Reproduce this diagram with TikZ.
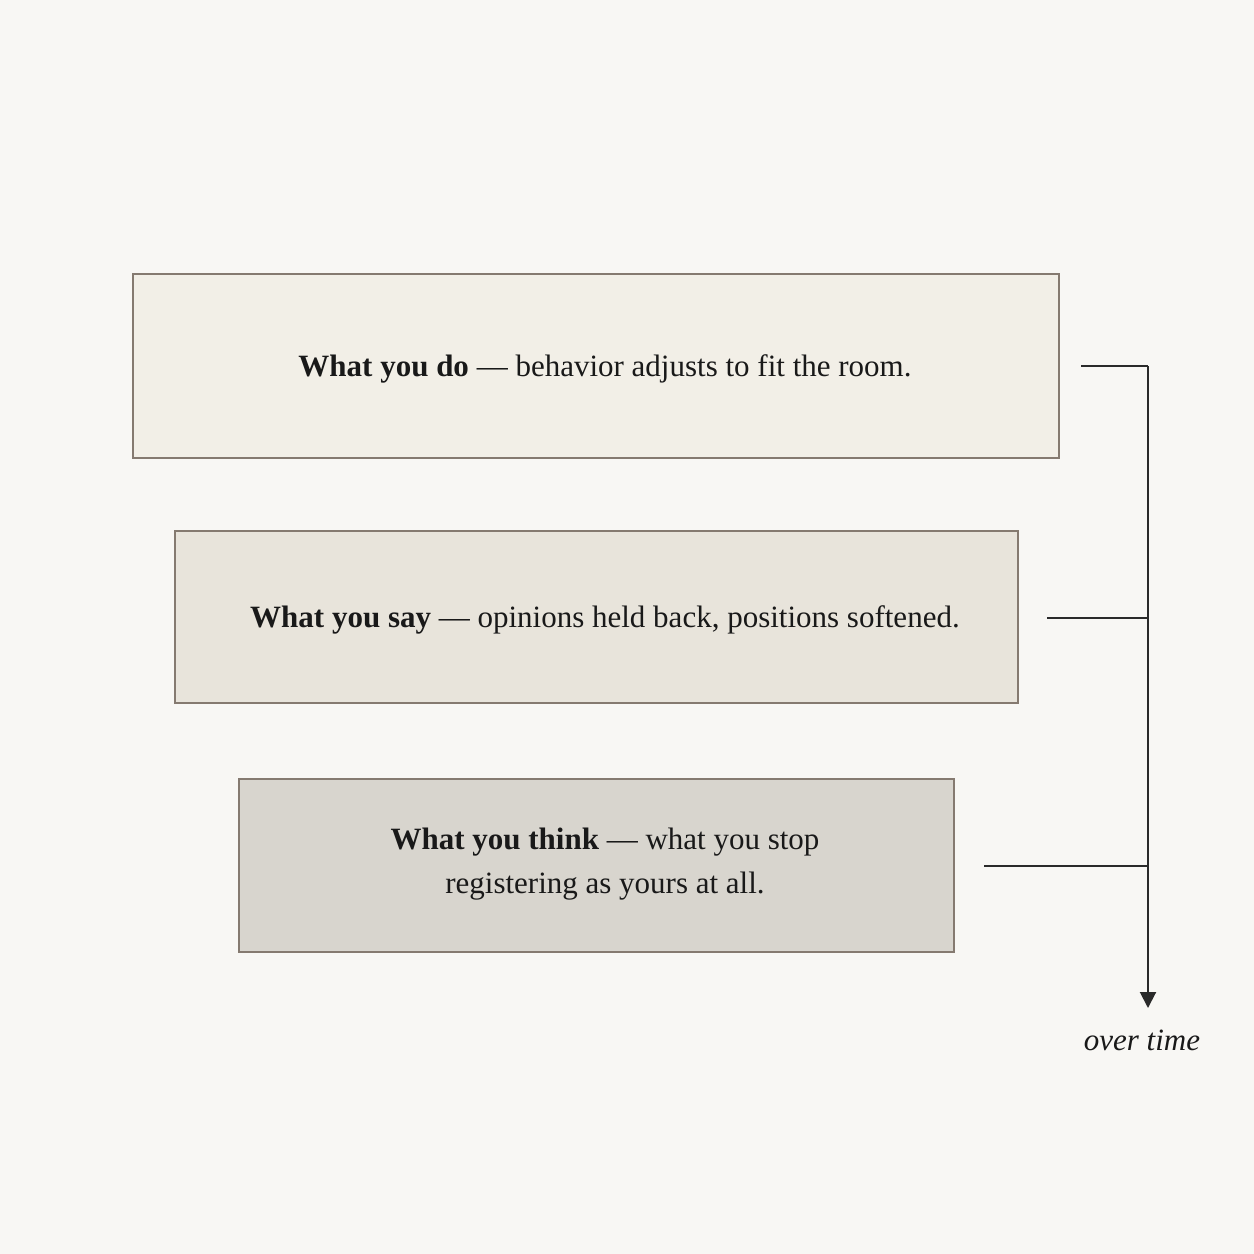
\documentclass[tikz,border=0pt]{standalone}
\usepackage{fontspec}
\setmainfont{Liberation Serif}
\usetikzlibrary{arrows.meta}
\definecolor{bg}{HTML}{F8F7F4}
\definecolor{fa}{HTML}{F2EFE7}
\definecolor{fb}{HTML}{E8E4DB}
\definecolor{fc}{HTML}{D8D5CE}
\definecolor{bd}{HTML}{857A70}
\definecolor{ln}{HTML}{2A2A2A}
\begin{document}
\begin{tikzpicture}[x=1pt,y=-1pt,
  box/.style={draw=bd,line width=1.2pt},
  lbl/.style={font=\fontsize{31}{44}\selectfont,text=black!90,align=center},
  conn/.style={draw=ln,line width=2pt}]
\fill[bg] (0,0) rectangle (1254,1254);
\useasboundingbox (0,0) rectangle (1254,1254);
\filldraw[box,fill=fa] (133,274) rectangle (1059,458);
\filldraw[box,fill=fb] (175,531) rectangle (1018,703);
\filldraw[box,fill=fc] (239,779) rectangle (954,952);
\node[lbl] (t1) at (605,369) {\textbf{What you do} — behavior adjusts to fit the room.};
\node[lbl] (t2) at (605,620) {\textbf{What you say} — opinions held back, positions softened.};
\node[lbl] (t3) at (605,864) {\textbf{What you think} — what you stop\\registering as yours at all.};
\coordinate (a1) at (1081,366);
\coordinate (a2) at (1047,618);
\coordinate (a3) at (984,866);
\coordinate (j1) at (1148,366);
\coordinate (j2) at (1148,618);
\coordinate (j3) at (1148,866);
\coordinate (e) at (1148,1008);
\draw[conn] (a1) -- (j1);
\draw[conn] (a2) -- (j2);
\draw[conn] (a3) -- (j3);
\draw[conn,-{Triangle[length=16pt,width=16pt]}] (j1) -- (e);
\node[lbl,font=\fontsize{31}{40}\selectfont\itshape] (ot) at (1142,1040) {over time};
\end{tikzpicture}
\end{document}
